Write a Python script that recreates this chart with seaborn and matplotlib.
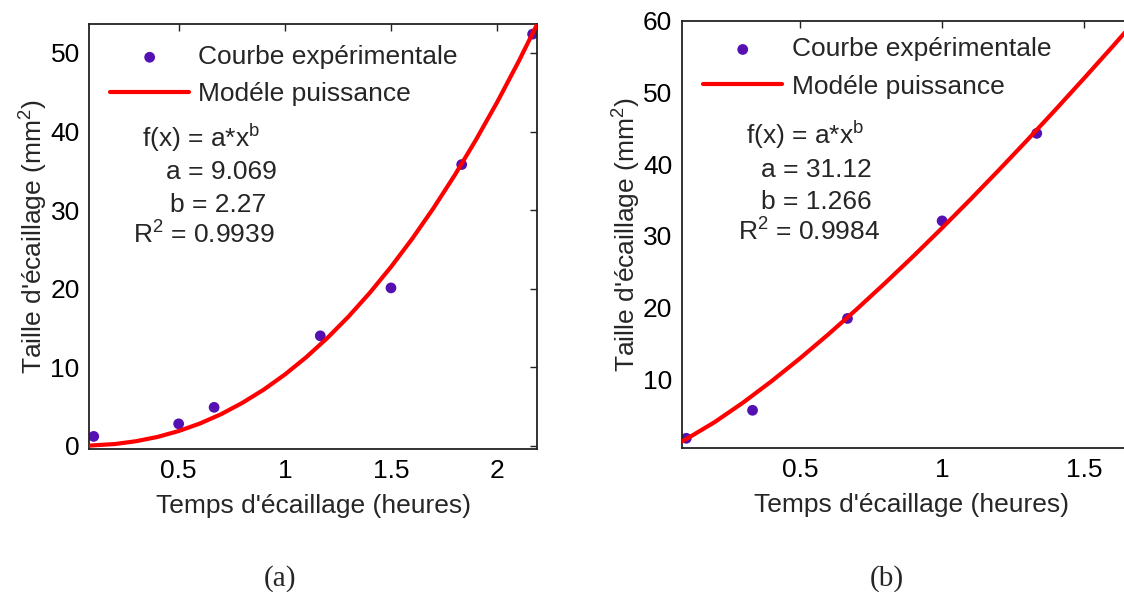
import matplotlib
matplotlib.use('Agg')
import matplotlib.pyplot as plt
import seaborn as sns
import pandas as pd

temps_a = [0.1, 0.5, 0.667, 1.167, 1.5, 1.833, 2.167]
taille_a = [1.2, 2.8, 4.9, 14.0, 20.1, 35.8, 52.4]
modele_x_a = [0.08, 0.2, 0.3, 0.4, 0.5, 0.6, 0.7, 0.8, 0.9, 1.0, 1.1,
              1.2, 1.3, 1.4, 1.5, 1.6, 1.7, 1.8, 1.9, 2.0, 2.1, 2.19]
modele_y_a = [0.03, 0.23, 0.59, 1.13, 1.88, 2.84, 4.03, 5.47, 7.14, 9.07, 11.26,
              13.72, 16.45, 19.47, 22.77, 26.36, 30.25, 34.44, 38.94, 43.74, 48.86, 53.75]
params_a = ['f(x) = a*x$^{\\mathregular{b}}$', 'a = 9.069', 'b = 2.27',
            'R$^{\\mathregular{2}}$ = 0.9939']

# (b)
temps_b = [0.1, 0.333, 0.667, 1.0, 1.333]
taille_b = [1.8, 5.7, 18.5, 32.1, 44.3]
modele_x_b = [0.083, 0.1, 0.2, 0.3, 0.4, 0.5, 0.6, 0.7, 0.8, 0.9, 1.0,
              1.1, 1.2, 1.3, 1.4, 1.5, 1.6, 1.7]
modele_y_b = [1.33, 1.69, 4.06, 6.78, 9.76, 12.94, 16.30, 19.81, 23.46, 27.23, 31.12,
              35.11, 39.20, 43.38, 47.65, 52.00, 56.42, 60.92]
params_b = ['f(x) = a*x$^{\\mathregular{b}}$', 'a = 31.12', 'b = 1.266',
            'R$^{\\mathregular{2}}$ = 0.9984']

sns.set_style('white')
plt.rcParams['font.family'] = ['Liberation Sans', 'DejaVu Sans']
plt.rcParams['mathtext.fontset'] = 'custom'
plt.rcParams['mathtext.rm'] = 'Liberation Sans'
plt.rcParams['mathtext.it'] = 'Liberation Sans'

FS = 19
PURPLE = '#5410b0'
RED = '#ff0000'

fig = plt.figure(figsize=(11.24, 5.92), dpi=100)
ax1 = fig.add_axes([0.0796, 0.2416, 0.3986, 0.718])
ax2 = fig.add_axes([0.6068, 0.2427, 0.4084, 0.7223])


def draw(ax, tx, ty, mx, my, params, xlim, ylim, xticks, yticks, text_x, text_y, leg_anchor):
    pts = pd.DataFrame({'t': tx, 's': ty})
    mod = pd.DataFrame({'t': mx, 's': my})
    sns.scatterplot(data=pts, x='t', y='s', ax=ax, color=PURPLE, s=60,
                    edgecolor='none', label='Courbe expérimentale', zorder=2)
    sns.lineplot(data=mod, x='t', y='s', ax=ax, color=RED, lw=3,
                 label='Modéle puissance', zorder=3, sort=False)
    ax.set_xlim(*xlim)
    ax.set_ylim(*ylim)
    ax.set_xticks(xticks)
    ax.set_xticklabels([('%g' % v) for v in xticks])
    ax.set_yticks(yticks)
    ax.tick_params(direction='in', length=5, width=1, top=True, right=True,
                   labelsize=FS, pad=7, colors='#222222', labelcolor='black')
    for sp in ax.spines.values():
        sp.set_linewidth(1.3)
        sp.set_color('#222222')
    ax.set_xlabel("Temps d'écaillage (heures)", fontsize=FS, labelpad=8)
    ax.set_ylabel("Taille d'écaillage (mm$^{\\mathregular{2}}$)", fontsize=FS, labelpad=0)
    for s, x, y in zip(params, text_x, text_y):
        ax.text(x, y, s, transform=ax.transAxes, fontsize=FS, va='baseline', ha='left')
    ax.legend(loc='upper left', bbox_to_anchor=leg_anchor, frameon=False, fontsize=FS,
              handlelength=3.0, handletextpad=0.35, borderpad=0, borderaxespad=0,
              labelspacing=0.5, markerscale=1.0)


draw(ax1, temps_a, taille_a, modele_x_a, modele_y_a, params_a,
     (0.08, 2.19), (-0.4, 53.7), [0.5, 1, 1.5, 2], [0, 10, 20, 30, 40, 50],
     [0.117, 0.171, 0.180, 0.097], [0.711, 0.635, 0.558, 0.482], (0.046, 0.950))
draw(ax2, temps_b, taille_b, modele_x_b, modele_y_b, params_b,
     (0.085, 1.7), (0.4, 60), [0.5, 1, 1.5], [10, 20, 30, 40, 50, 60],
     [0.139, 0.172, 0.172, 0.122], [0.712, 0.634, 0.560, 0.485], (0.046, 0.961))

fig.text(0.249, 0.011, '(a)', fontsize=21, family='Liberation Serif', ha='center', va='baseline')
fig.text(0.789, 0.011, '(b)', fontsize=21, family='Liberation Serif', ha='center', va='baseline')

fig.savefig('out.png', dpi=100)
